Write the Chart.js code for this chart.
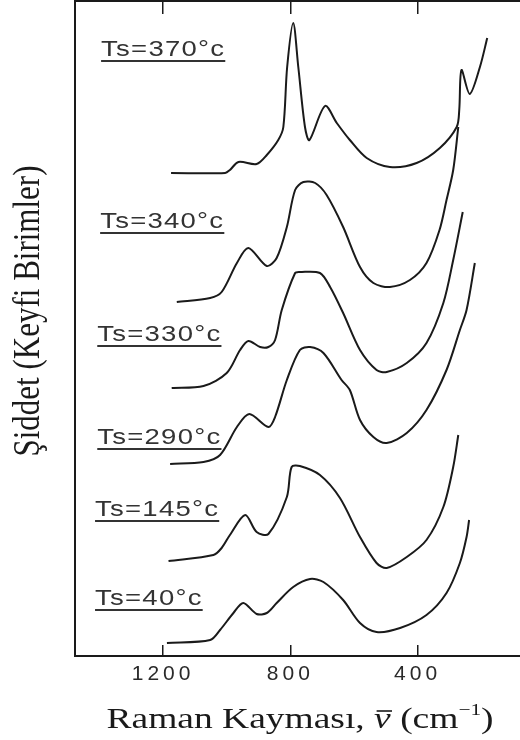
<!DOCTYPE html>
<html lang="tr">
<head>
    <meta charset="UTF-8">
    <title>Raman Kayması</title>
    <style>
        html, body {
            margin: 0;
            padding: 0;
            background: #fff;
        }

        .chart-box {
            position: relative;
            width: 520px;
            height: 740px;
        }
    </style>
    <script src="https://cdn.jsdelivr.net/npm/chart.js"></script>
</head>
<body>
    <div class="chart-box">
        <canvas id="ramanChart"></canvas>
    </div>

    <script>
        // Raman spektrumları, dalga sayısı (cm-1) ve keyfi şiddet
        const w370 = [1175, 1005, 990, 963, 906, 874, 838, 822, 810, 791, 775, 754, 740, 691, 654, 613, 560, 487, 403, 330, 277, 269, 262, 236, 204, 181];
        const i370 = [483, 483, 486, 494, 492, 501, 516, 529, 589, 633, 589, 529, 516, 550, 533, 516, 498, 489, 493, 508, 529, 546, 586, 562, 589, 618];

        const w340 = [1157, 1052, 1016, 968, 932, 874, 843, 811, 785, 759, 722, 686, 634, 581, 539, 487, 424, 372, 331, 309, 288, 272];
        const i340 = [354, 358, 364, 393, 408, 390, 398, 429, 466, 474, 473, 461, 429, 389, 373, 369, 376, 393, 426, 456, 486, 529];

        const w330 = [1173, 1073, 1000, 958, 932, 895, 869, 848, 827, 785, 770, 707, 675, 634, 581, 529, 497, 434, 372, 319, 288, 258];
        const i330 = [268, 270, 283, 306, 315, 309, 309, 316, 346, 383, 384, 383, 369, 343, 306, 286, 284, 293, 313, 353, 396, 444];

        const w290 = [1178, 1073, 1021, 968, 929, 869, 848, 811, 770, 738, 696, 639, 613, 581, 539, 497, 434, 372, 309, 267, 246, 220];
        const i290 = [192, 194, 201, 229, 242, 229, 239, 276, 306, 309, 303, 276, 266, 236, 219, 213, 223, 246, 286, 326, 346, 393];

        const w145 = [1183, 1042, 1016, 990, 942, 906, 869, 811, 796, 770, 707, 644, 581, 529, 497, 434, 372, 319, 288, 272];
        const i145 = [95, 101, 108, 121, 141, 124, 122, 159, 189, 190, 181, 158, 119, 93, 88, 99, 116, 149, 189, 221];

        const w40 = [1188, 1052, 1021, 979, 948, 906, 874, 843, 791, 738, 696, 634, 581, 529, 455, 372, 309, 267, 246, 238];
        const i40 = [13, 16, 26, 43, 53, 42, 43, 53, 69, 77, 74, 56, 33, 24, 28, 41, 63, 93, 119, 136];

        const seriesNames = ['Ts=370°c', 'Ts=340°c', 'Ts=330°c', 'Ts=290°c', 'Ts=145°c', 'Ts=40°c'];
        const labelWave = [1395, 1398, 1407, 1407, 1414, 1414];
        const labelLevel = [606, 434, 321, 218, 146, 57];

        const tickValues = [1200, 800, 400];

        const waves = [w370, w340, w330, w290, w145, w40];
        const levels = [i370, i340, i330, i290, i145, i40];

        // the scan is a bit wider than tall, so text gets stretched sideways
        const stretch = 1.25;
        const ink = '#1a1a1a';

        const textPlugin = {
            id: 'textPlugin',
            beforeDraw(chart) {
                chart.ctx.letterSpacing = '4px';
            },
            afterDraw(chart) {
                const ctx = chart.ctx;
                const xs = chart.scales.x;
                const ys = chart.scales.y;
                ctx.save();

                // series labels with underline
                ctx.fillStyle = '#333';
                ctx.strokeStyle = '#333';
                ctx.font = '22px "Liberation Sans", Arial, sans-serif';
                ctx.letterSpacing = '1px';
                ctx.textAlign = 'left';
                ctx.textBaseline = 'middle';
                seriesNames.forEach((name, i) => {
                    const x = xs.getPixelForValue(labelWave[i]);
                    const y = ys.getPixelForValue(labelLevel[i]);
                    const w = ctx.measureText(name).width * stretch;
                    ctx.save();
                    ctx.translate(x, y);
                    ctx.scale(stretch, 1);
                    ctx.fillText(name, 0, 0);
                    ctx.restore();
                    ctx.lineWidth = 2;
                    ctx.beginPath();
                    ctx.moveTo(x, y + 11);
                    ctx.lineTo(x + w, y + 11);
                    ctx.stroke();
                });

                ctx.letterSpacing = '0px';
                ctx.fillStyle = ink;
                ctx.strokeStyle = ink;

                // y title
                ctx.save();
                ctx.font = '31px "Liberation Serif", "Times New Roman", serif';
                ctx.translate(29, 311);
                ctx.scale(stretch, 1);
                ctx.rotate(-Math.PI / 2);
                ctx.textAlign = 'center';
                ctx.textBaseline = 'middle';
                ctx.fillText('Şiddet (Keyfi Birimler)', 0, 0);
                ctx.restore();

                // x title: Raman Kayması, ν̄ (cm⁻¹)
                const big = '30px "Liberation Serif", "Times New Roman", serif';
                const ital = 'italic 30px "Liberation Serif", "Times New Roman", serif';
                const small = '17px "Liberation Serif", "Times New Roman", serif';
                const parts = [
                    { t: 'Raman Kayması, ', f: big, dy: 0 },
                    { t: 'ν', f: ital, dy: 0, bar: true },
                    { t: ' (cm', f: big, dy: 0 },
                    { t: '−1', f: small, dy: -13 },
                    { t: ')', f: big, dy: 0 }
                ];
                let total = 0;
                parts.forEach(p => {
                    ctx.font = p.f;
                    p.w = ctx.measureText(p.t).width;
                    total += p.w;
                });
                ctx.save();
                ctx.translate(300, 728);
                ctx.scale(stretch, 1);
                ctx.textAlign = 'left';
                ctx.textBaseline = 'alphabetic';
                let cx = -total / 2;
                parts.forEach(p => {
                    ctx.font = p.f;
                    ctx.fillText(p.t, cx, p.dy);
                    if (p.bar) {
                        ctx.lineWidth = 1.6;
                        ctx.beginPath();
                        ctx.moveTo(cx + 2, -17);
                        ctx.lineTo(cx + p.w + 1, -17);
                        ctx.stroke();
                    }
                    cx += p.w;
                });
                ctx.restore();

                ctx.restore();
            }
        };

        const datasets = waves.map((w, k) => ({
            label: seriesNames[k],
            data: w.map((v, j) => ({ x: v, y: levels[k][j] })),
            borderColor: ink,
            borderWidth: 2,
            pointRadius: 0,
            tension: 0.3,
            fill: false
        }));

        const setTicks = scale => {
            scale.ticks = tickValues.map(v => ({ value: v }));
        };

        new Chart(document.getElementById('ramanChart'), {
            type: 'line',
            data: { datasets: datasets },
            options: {
                responsive: true,
                maintainAspectRatio: false,
                animation: false,
                layout: { padding: { left: 75, right: 0, top: 0, bottom: 0 } },
                plugins: {
                    legend: { display: false },
                    tooltip: { enabled: false }
                },
                scales: {
                    x: {
                        type: 'linear',
                        position: 'bottom',
                        min: 78,
                        max: 1477,
                        reverse: true,
                        afterBuildTicks: setTicks,
                        afterFit: s => { s.height = 84; },
                        grid: {
                            drawOnChartArea: false,
                            drawTicks: true,
                            tickLength: -11,
                            color: ink,
                            lineWidth: 1.5
                        },
                        border: { display: true, color: ink, width: 2 },
                        ticks: {
                            color: '#2a2a2a',
                            padding: 17,
                            maxRotation: 0,
                            callback: v => String(v),
                            font: { family: '"Liberation Sans", Arial, sans-serif', size: 21 }
                        }
                    },
                    x2: {
                        type: 'linear',
                        position: 'top',
                        min: 78,
                        max: 1477,
                        reverse: true,
                        afterBuildTicks: setTicks,
                        afterFit: s => { s.height = 1; },
                        grid: {
                            drawOnChartArea: false,
                            drawTicks: true,
                            tickLength: -13,
                            color: ink,
                            lineWidth: 1.5
                        },
                        border: { display: true, color: ink, width: 2 },
                        ticks: { display: false }
                    },
                    y: {
                        type: 'linear',
                        min: 0,
                        max: 655,
                        afterFit: s => { s.width = 0; },
                        grid: { display: false },
                        border: { display: true, color: ink, width: 2 },
                        ticks: { display: false }
                    }
                }
            },
            plugins: [textPlugin]
        });
    </script>
</body>
</html>
